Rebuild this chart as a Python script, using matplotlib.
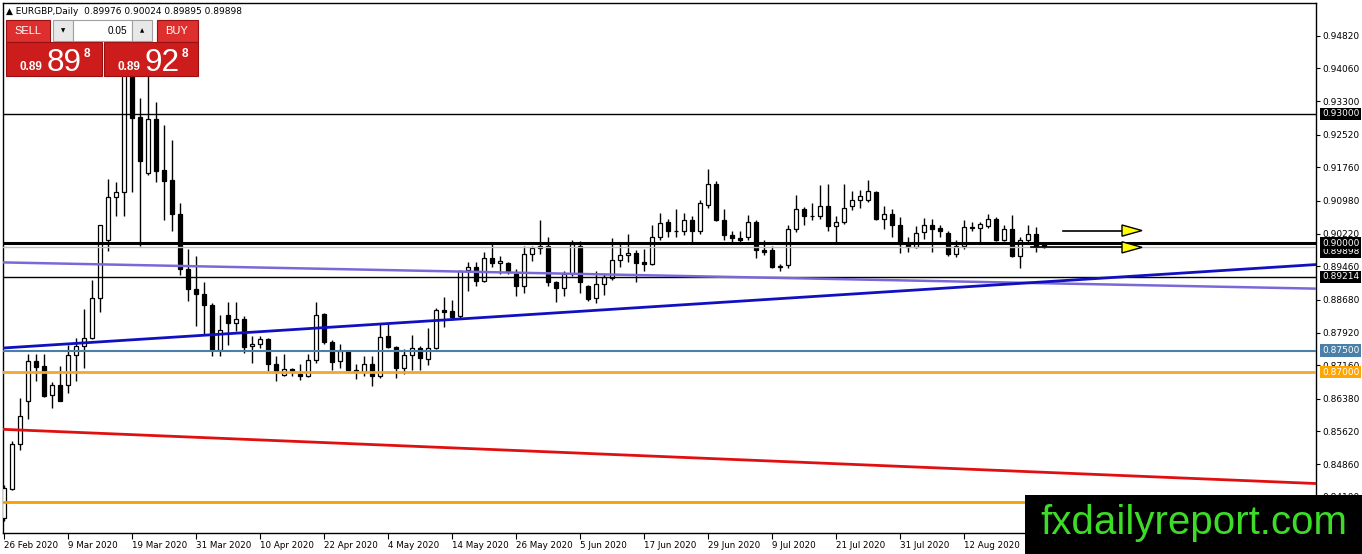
import numpy as np
import matplotlib.pyplot as plt
from matplotlib.patches import Rectangle, Polygon

# EURGBP daily candles (bar index 0 = 26 Feb 2020)
opens = [0.8360, 0.8429, 0.8532, 0.8634, 0.8726, 0.8714, 0.8647, 0.8670, 0.8670, 0.8739,
         0.8760, 0.8780, 0.8872, 0.9008, 0.9106, 0.9119, 0.9440, 0.9292, 0.9163, 0.9288,
         0.9169, 0.9146, 0.9068, 0.8940, 0.8893, 0.8882, 0.8857, 0.8751, 0.8833, 0.8815,
         0.8824, 0.8760, 0.8765, 0.8777, 0.8718, 0.8693, 0.8707, 0.8696, 0.8691, 0.8728,
         0.8835, 0.8769, 0.8726, 0.8748, 0.8705, 0.8701, 0.8720, 0.8691, 0.8784, 0.8759,
         0.8709, 0.8739, 0.8757, 0.8730, 0.8757, 0.8844, 0.8841, 0.8830, 0.8938, 0.8945,
         0.8911, 0.8966, 0.8954, 0.8953, 0.8928, 0.8899, 0.8975, 0.8992, 0.8994, 0.8910,
         0.8896, 0.8927, 0.8994, 0.8901, 0.8872, 0.8905, 0.8918, 0.8961, 0.8973, 0.8977,
         0.8955, 0.8952, 0.9015, 0.9050, 0.9027, 0.9028, 0.9054, 0.9027, 0.9089, 0.9137,
         0.9054, 0.9018, 0.9012, 0.9015, 0.9050, 0.8984, 0.8983, 0.8945, 0.8950, 0.9033,
         0.9080, 0.9063, 0.9064, 0.9085, 0.9039, 0.9050, 0.9085, 0.9099, 0.9099, 0.9119,
         0.9057, 0.9068, 0.9043, 0.8998, 0.8990, 0.9025, 0.9043, 0.9035, 0.9024, 0.8975,
         0.8993, 0.9038, 0.9035, 0.9039, 0.9055, 0.9008, 0.9033, 0.8971, 0.9006, 0.9022,
         0.89976]
highs = [0.8438, 0.8539, 0.8640, 0.8742, 0.8742, 0.8742, 0.8677, 0.8714, 0.8763, 0.8780,
         0.8847, 0.8913, 0.9043, 0.9148, 0.9142, 0.9460, 0.9500, 0.9337, 0.9400, 0.9327,
         0.9274, 0.9239, 0.9092, 0.8987, 0.8971, 0.8909, 0.8860, 0.8833, 0.8862, 0.8862,
         0.8831, 0.8784, 0.8784, 0.8780, 0.8738, 0.8742, 0.8710, 0.8718, 0.8742, 0.8862,
         0.8838, 0.8774, 0.8765, 0.8750, 0.8718, 0.8738, 0.8738, 0.8813, 0.8811, 0.8761,
         0.8753, 0.8787, 0.8761, 0.8802, 0.8850, 0.8875, 0.8868, 0.8937, 0.8957, 0.8957,
         0.8980, 0.8998, 0.8969, 0.8955, 0.8940, 0.8992, 0.8992, 0.9053, 0.9015, 0.8912,
         0.8936, 0.9006, 0.9004, 0.8903, 0.8934, 0.8928, 0.9012, 0.8998, 0.9022, 0.8983,
         0.8987, 0.9041, 0.9071, 0.9057, 0.9078, 0.9071, 0.9064, 0.9099, 0.9173, 0.9144,
         0.9078, 0.9029, 0.9027, 0.9066, 0.9054, 0.9008, 0.8992, 0.8952, 0.9041, 0.9111,
         0.9084, 0.9093, 0.9134, 0.9137, 0.9064, 0.9137, 0.9121, 0.9123, 0.9146, 0.9122,
         0.9086, 0.9078, 0.9060, 0.9014, 0.9039, 0.9058, 0.9057, 0.9041, 0.9027, 0.9006,
         0.9053, 0.9049, 0.9049, 0.9068, 0.9060, 0.9043, 0.9066, 0.9014, 0.9043, 0.9037,
         0.90024]
lows = [0.8353, 0.8427, 0.8518, 0.8590, 0.8679, 0.8642, 0.8617, 0.8633, 0.8652, 0.8679,
        0.8710, 0.8776, 0.8839, 0.8981, 0.9064, 0.9064, 0.9119, 0.8994, 0.9158, 0.9142,
        0.9053, 0.9029, 0.8925, 0.8866, 0.8808, 0.8788, 0.8738, 0.8738, 0.8763, 0.8796,
        0.8745, 0.8722, 0.8756, 0.8703, 0.8679, 0.8692, 0.8692, 0.8681, 0.8689, 0.8722,
        0.8766, 0.8706, 0.8710, 0.8703, 0.8685, 0.8692, 0.8668, 0.8687, 0.8757, 0.8687,
        0.8695, 0.8706, 0.8706, 0.8717, 0.8753, 0.8804, 0.8821, 0.8824, 0.8889, 0.8899,
        0.8909, 0.8944, 0.8928, 0.8927, 0.8878, 0.8885, 0.8959, 0.8975, 0.8899, 0.8862,
        0.8878, 0.8924, 0.8883, 0.8866, 0.8860, 0.8880, 0.8915, 0.8945, 0.8957, 0.8909,
        0.8934, 0.8950, 0.9006, 0.9015, 0.9015, 0.9018, 0.9002, 0.9020, 0.9081, 0.9052,
        0.9008, 0.9000, 0.9002, 0.9008, 0.8966, 0.8973, 0.8942, 0.8936, 0.8942, 0.9025,
        0.9043, 0.9054, 0.9057, 0.9029, 0.9002, 0.9045, 0.9076, 0.9081, 0.9095, 0.9053,
        0.9033, 0.9014, 0.8977, 0.8979, 0.8988, 0.9010, 0.8980, 0.9014, 0.8971, 0.8967,
        0.8987, 0.9029, 0.8998, 0.9035, 0.9004, 0.9004, 0.8967, 0.8941, 0.8998, 0.8980,
        0.89895]
closes = [0.8430, 0.8532, 0.8598, 0.8726, 0.8713, 0.8644, 0.8670, 0.8634, 0.8739, 0.8760,
          0.8780, 0.8872, 0.9041, 0.9106, 0.9119, 0.9420, 0.9291, 0.9191, 0.9288, 0.9168,
          0.9144, 0.9068, 0.8940, 0.8893, 0.8882, 0.8857, 0.8751, 0.8798, 0.8815, 0.8824,
          0.8759, 0.8765, 0.8777, 0.8718, 0.8703, 0.8707, 0.8701, 0.8690, 0.8728, 0.8833,
          0.8769, 0.8724, 0.8748, 0.8705, 0.8701, 0.8718, 0.8692, 0.8782, 0.8759, 0.8709,
          0.8739, 0.8757, 0.8732, 0.8757, 0.8844, 0.8839, 0.8829, 0.8935, 0.8944, 0.8911,
          0.8966, 0.8953, 0.8959, 0.8934, 0.8899, 0.8975, 0.8989, 0.8988, 0.8909, 0.8895,
          0.8927, 0.8998, 0.8909, 0.8870, 0.8905, 0.8920, 0.8961, 0.8973, 0.8977, 0.8954,
          0.8952, 0.9014, 0.9047, 0.9027, 0.9029, 0.9054, 0.9028, 0.9092, 0.9137, 0.9054,
          0.9018, 0.9012, 0.9006, 0.9049, 0.8984, 0.8979, 0.8945, 0.8946, 0.9033, 0.9080,
          0.9063, 0.9064, 0.9085, 0.9039, 0.9050, 0.9082, 0.9099, 0.9109, 0.9120, 0.9057,
          0.9068, 0.9043, 0.8998, 0.8990, 0.9024, 0.9043, 0.9032, 0.9027, 0.8975, 0.8993,
          0.9037, 0.9036, 0.9045, 0.9055, 0.9006, 0.9033, 0.8969, 0.9006, 0.9022, 0.8994,
          0.89898]

tick_bars = list(range(0, 121, 8))
tick_dates = ['26 Feb 2020', '9 Mar 2020', '19 Mar 2020', '31 Mar 2020', '10 Apr 2020',
              '22 Apr 2020', '4 May 2020', '14 May 2020', '26 May 2020', '5 Jun 2020',
              '17 Jun 2020', '29 Jun 2020', '9 Jul 2020', '21 Jul 2020', '31 Jul 2020',
              '12 Aug 2020']
price_ticks = [0.94820, 0.94060, 0.93300, 0.92520, 0.91760, 0.90980, 0.90220, 0.89460,
               0.88680, 0.87920, 0.87160, 0.86380, 0.85620, 0.84860, 0.84100]

# horizontal levels
lvl_930 = 0.93000
lvl_900 = 0.90000
bid = 0.89898
lvl_892 = 0.89214
lvl_875 = 0.87500
lvl_870 = 0.87000
lvl_840 = 0.8399

# trend lines (bar index, price)
trend_x = [-0.125, 164]
red_y = [0.8567, 0.8441]
blue_y = [0.8756, 0.8950]
purple_y = [0.8955, 0.8894]

# arrows: start bar, tip bar, price
arrows = [(132.4, 142.25, 0.9029), (128.4, 142.25, 0.8990)]

W, H = 1362, 554
fig = plt.figure(figsize=(W / 100, H / 100), dpi=100)
ax = fig.add_axes([3 / W, 21 / H, 1313 / W, 530 / H])

def fx(x):
    return x / W

def fy(y):
    return 1 - y / H

o = np.array(opens); h = np.array(highs); l = np.array(lows); c = np.array(closes)
x = np.arange(len(o))
up = c >= o
bb = np.minimum(o, c)
bh = np.maximum(np.abs(c - o), 0.00004)

ax.vlines(x, l, h, color='black', lw=1, zorder=2)
ax.bar(x[up], bh[up], bottom=bb[up], width=0.62, facecolor='white', edgecolor='black', lw=0.9, zorder=3)
ax.bar(x[~up], bh[~up], bottom=bb[~up], width=0.62, facecolor='black', edgecolor='black', lw=0.9, zorder=3)

ax.axhline(lvl_930, color='black', lw=1, zorder=4)
ax.axhline(bid, color='#c0c0c0', lw=1, zorder=4)
ax.axhline(lvl_900, color='black', lw=2.2, zorder=4)
ax.axhline(lvl_892, color='black', lw=1, zorder=4)
ax.axhline(lvl_875, color='#4a7fa8', lw=1.5, zorder=4)
ax.axhline(lvl_870, color='#f0a830', lw=2, zorder=4)
ax.axhline(lvl_840, color='#f5a000', lw=2, zorder=4)
ax.plot(trend_x, red_y, color='#e01010', lw=2, zorder=4)
ax.plot(trend_x, purple_y, color='#7b68d8', lw=1.8, zorder=4)
ax.plot(trend_x, blue_y, color='#1010c0', lw=2, zorder=4)

for x0, x1, yv in arrows:
    ax.plot([x0, x1 - 2.5], [yv, yv], color='black', lw=1.2, zorder=5)
    ax.add_patch(Polygon([[x1 - 2.5, yv + 0.0013], [x1, yv], [x1 - 2.5, yv - 0.0013]],
                         closed=True, facecolor='#ffff00', edgecolor='black', lw=1, zorder=6))

ax.set_xlim(-0.125, 164)
ax.set_ylim(0.8326, 0.9558)

ax.yaxis.tick_right()
ax.set_yticks(price_ticks)
ax.set_yticklabels(['%.5f' % p for p in price_ticks])
ax.tick_params(axis='y', direction='out', length=3, width=0.8, labelsize=6.5, pad=1.5)
ax.set_xticks(tick_bars)
ax.set_xticklabels(tick_dates, ha='left')
ax.tick_params(axis='x', direction='out', length=4, width=0.8, labelsize=6.3, pad=2)
for s in ax.spines.values():
    s.set_linewidth(1)

def tag(yv, text, face):
    ax.annotate(text, xy=(1, yv), xycoords=('axes fraction', 'data'), xytext=(6, 0),
                textcoords='offset pixels', ha='left', va='center', fontsize=6.5,
                color='white', bbox=dict(boxstyle='square,pad=0.2', fc=face, ec='none'),
                annotation_clip=False, zorder=7)

tag(lvl_930, '0.93000', 'black')
tag(bid - 0.0009, '0.89898', 'black')
tag(lvl_900, '0.90000', 'black')
tag(lvl_892, '0.89214', 'black')
tag(lvl_875, '0.87500', '#4a7fa8')
tag(lvl_870, '0.87000', '#ffa500')

# header
fig.text(fx(6), fy(11), '\u25b2 EURGBP,Daily  0.89976 0.90024 0.89895 0.89898',
         fontsize=6.5, va='center', ha='left')

# one-click trading panel
def rect(x0, y0, x1, y1, fc, ec='none', lw=0.8):
    fig.add_artist(Rectangle((fx(x0), fy(y1)), (x1 - x0) / W, (y1 - y0) / H,
                             transform=fig.transFigure, facecolor=fc, edgecolor=ec,
                             lw=lw, zorder=8))

rect(6, 20, 50, 42, '#de2f2f', '#9a1010')
rect(157, 20, 198, 42, '#de2f2f', '#9a1010')
rect(6, 42, 102, 76, '#cc1c1c', '#9a1010')
rect(104, 42, 198, 76, '#cc1c1c', '#9a1010')
rect(53, 20, 73, 41, '#e8e8e8', '#a0a0a0')
rect(73, 20, 132, 41, 'white', '#a0a0a0')
rect(132, 20, 152, 41, '#e8e8e8', '#a0a0a0')

fig.text(fx(28), fy(31), 'SELL', color='white', fontsize=8, ha='center', va='center',
         family='Liberation Sans', zorder=9)
fig.text(fx(177), fy(31), 'BUY', color='white', fontsize=8, ha='center', va='center',
         family='Liberation Sans', zorder=9)
fig.text(fx(63), fy(31), '\u25bc', fontsize=4, ha='center', va='center', zorder=9)
fig.text(fx(142), fy(31), '\u25b2', fontsize=4, ha='center', va='center', zorder=9)
fig.text(fx(127), fy(31), '0.05', fontsize=7.2, ha='right', va='center',
         family='Liberation Sans', zorder=9)

for x_small, x_big, x_sup, big in [(20, 47, 84, '89'), (118, 145, 182, '92')]:
    fig.text(fx(x_small), fy(70), '0.89', color='white', fontsize=8.5, weight='bold',
             ha='left', va='baseline', family='Liberation Sans', zorder=9)
    fig.text(fx(x_big), fy(71), big, color='white', fontsize=22.7, ha='left',
             va='baseline', family='Liberation Sans', zorder=9)
    fig.text(fx(x_sup), fy(57), '8', color='white', fontsize=8.5, weight='bold',
             ha='left', va='baseline', family='Liberation Sans', zorder=9)

# watermark
rect(1025, 495, 1362, 554, 'black')
fig.text(fx(1040), fy(534), 'fxdailyreport.com', color='#3cdc28', fontsize=29,
         ha='left', va='baseline', family='Liberation Sans', zorder=9)

fig.savefig('out.png', dpi=100)
